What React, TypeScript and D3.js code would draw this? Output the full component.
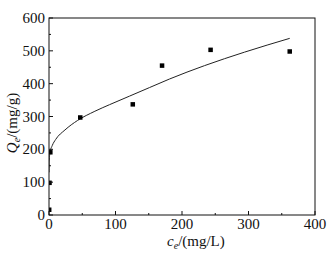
import React from "react";
import * as d3 from "d3";

const ceData = [0.3, 0.8, 2, 47, 126, 170, 243, 362];
const qeData = [16, 98, 191, 297, 337, 455, 503, 498];
const fitC = [0.02, 0.3, 1.5, 5, 10, 24, 43, 69, 91, 121, 151, 181, 234, 294, 362];
const fitQ = [130, 165, 190, 212, 230, 259, 288, 316, 336, 362, 388, 414, 455, 496, 538];
const xTicks = [0, 100, 200, 300, 400];
const yTicks = [0, 100, 200, 300, 400, 500, 600];

export default function App() {
  const W = 334, H = 265;
  const left = 49, right = 315, top = 18, bottom = 215;
  const x = d3.scaleLinear().domain([0, 400]).range([left, right]);
  const y = d3.scaleLinear().domain([0, 600]).range([bottom, top]);
  const xMinor = d3.range(50, 400, 100);
  const yMinor = d3.range(50, 600, 100);
  const line = d3
    .line<number>()
    .x((_, i) => x(fitC[i]))
    .y((d) => y(d))
    .curve(d3.curveMonotoneX);
  const font = "'Liberation Serif', 'Times New Roman', serif";
  const s = 4.5;
  return (
    <svg
      width={W}
      height={H}
      style={{ position: "absolute", left: 0, top: 0, background: "#fff" }}
      fontFamily={font}
    >
      <defs>
        <clipPath id="plot">
          <rect x={left} y={top} width={right - left} height={bottom - top} />
        </clipPath>
      </defs>
      <rect x={0} y={0} width={W} height={H} fill="#fff" />
      <g clipPath="url(#plot)">
        <path d={line(fitQ) || ""} fill="none" stroke="#222" strokeWidth={1} />
        {ceData.map((c, i) => (
          <rect
            key={i}
            x={x(c) - s / 2}
            y={y(qeData[i]) - s / 2}
            width={s}
            height={s}
            fill="#000"
          />
        ))}
      </g>
      <rect
        x={left}
        y={top}
        width={right - left}
        height={bottom - top}
        fill="none"
        stroke="#111"
        strokeWidth={1}
      />
      {xTicks.map((t) => (
        <g key={"x" + t}>
          <line x1={x(t)} x2={x(t)} y1={bottom} y2={bottom - 4} stroke="#111" />
          <text x={x(t)} y={229} fontSize={15} textAnchor="middle" fill="#111">
            {t}
          </text>
        </g>
      ))}
      {xMinor.map((t) => (
        <line key={"xm" + t} x1={x(t)} x2={x(t)} y1={bottom} y2={bottom - 2} stroke="#111" />
      ))}
      {yTicks.map((t) => (
        <g key={"y" + t}>
          <line x1={left} x2={left + 4} y1={y(t)} y2={y(t)} stroke="#111" />
          <text
            x={45}
            y={y(t) + 5}
            fontSize={15}
            textAnchor="end"
            fill="#111"
          >
            {t}
          </text>
        </g>
      ))}
      {yMinor.map((t) => (
        <line key={"ym" + t} x1={left} x2={left + 2} y1={y(t)} y2={y(t)} stroke="#111" />
      ))}
      <text x={167} y={246} fontSize={15} fill="#111">
        <tspan fontStyle="italic">c</tspan>
        <tspan fontSize={10} dy={3} fontStyle="italic">e</tspan>
        <tspan dy={-3}>/(mg/L)</tspan>
      </text>
      <text
        transform="translate(17,123) rotate(-90)"
        fontSize={15}
        textAnchor="middle"
        fill="#111"
      >
        <tspan fontStyle="italic">Q</tspan>
        <tspan fontSize={10} dy={3} fontStyle="italic">e</tspan>
        <tspan dy={-3}>/(mg/g)</tspan>
      </text>
    </svg>
  );
}
